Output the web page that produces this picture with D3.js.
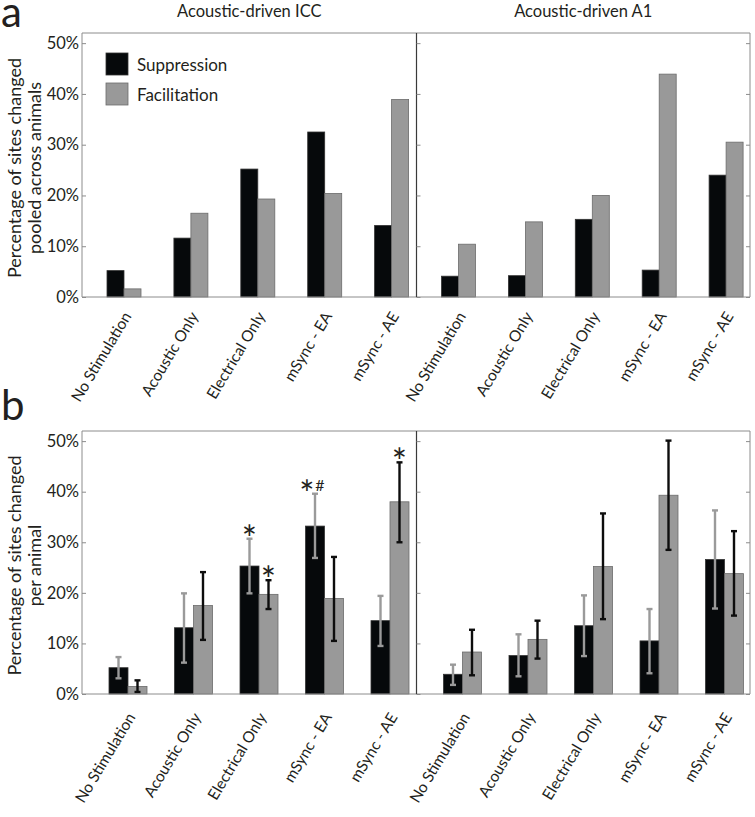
<!DOCTYPE html>
<html><head><meta charset="utf-8">
<script src="https://cdn.jsdelivr.net/npm/d3@7"></script>
<style>
body{margin:0;background:#fff}
text{font-family:Lato,"Noto Sans",sans-serif;fill:#231f20}
</style>
</head><body><svg id="c" width="755" height="817"></svg>
<script>
// ---------- data ----------
const categories = ["No Stimulation","Acoustic Only","Electrical Only","mSync - EA","mSync - AE"];
const seriesNames = ["Suppression","Facilitation"];
const panelTitles = ["Acoustic-driven ICC","Acoustic-driven A1"];
const yTicks = [0,10,20,30,40,50];

// panel a : pooled across animals (%)
const pooledICC_supp = [5.2, 11.6, 25.2, 32.5, 14.1];
const pooledICC_fac  = [1.6, 16.5, 19.3, 20.4, 38.9];
const pooledA1_supp  = [4.1, 4.2, 15.3, 5.3, 24.0];
const pooledA1_fac   = [10.4, 14.8, 20.0, 43.9, 30.5];

// panel b : per animal (%), with error bar ends
const perICC_supp    = [5.2, 13.1, 25.3, 33.2, 14.5];
const perICC_supp_lo = [3.1, 6.2, 19.9, 26.9, 9.5];
const perICC_supp_hi = [7.3, 19.9, 30.7, 39.6, 19.4];
const perICC_fac     = [1.5, 17.5, 19.7, 18.9, 38.0];
const perICC_fac_lo  = [0.4, 10.7, 16.8, 10.5, 30.0];
const perICC_fac_hi  = [2.7, 24.1, 22.5, 27.1, 45.8];
const perA1_supp     = [3.9, 7.6, 13.5, 10.5, 26.6];
const perA1_supp_lo  = [1.8, 3.5, 7.5, 4.1, 16.9];
const perA1_supp_hi  = [5.8, 11.8, 19.5, 16.8, 36.3];
const perA1_fac      = [8.3, 10.8, 25.2, 39.3, 23.8];
const perA1_fac_lo   = [3.7, 7.0, 14.8, 28.5, 15.5];
const perA1_fac_hi   = [12.7, 14.5, 35.7, 50.1, 32.2];

// significance marks (panel b, ICC)
const marks = [
  {cat:"Electrical Only", series:0, text:"*"},
  {cat:"Electrical Only", series:1, text:"*"},
  {cat:"mSync - EA", series:0, text:"*", extra:"#"},
  {cat:"mSync - AE", series:1, text:"*"}
];

// ---------- drawing ----------
const svg = d3.select("#c");
const X0 = 82, XM = 416.5, X1 = 750;
const colSupp = "#06090b", colFac = "#999999";
const frameCol = "#8c8c8c";

const rows = [
  {letter:"a", top:33, bottom:297, offset:42, step:66.9, barW:17, lblDy:19,
   ylab:["Percentage of sites changed","pooled across animals"],
   sub:[{supp:pooledICC_supp, fac:pooledICC_fac},{supp:pooledA1_supp, fac:pooledA1_fac}]},
  {letter:"b", top:431, bottom:694, offset:46, step:65.5, barW:19, lblDy:23,
   ylab:["Percentage of sites changed","per animal"],
   sub:[{supp:perICC_supp, fac:perICC_fac, supp_lo:perICC_supp_lo, supp_hi:perICC_supp_hi, fac_lo:perICC_fac_lo, fac_hi:perICC_fac_hi},
        {supp:perA1_supp, fac:perA1_fac, supp_lo:perA1_supp_lo, supp_hi:perA1_supp_hi, fac_lo:perA1_fac_lo, fac_hi:perA1_fac_hi}]}
];

rows.forEach((row, ri) => {
  const y = d3.scaleLinear().domain([0,52]).range([row.bottom, row.top]);
  const g = svg.append("g");
  const lefts = [X0, XM];

  row.sub.forEach((d, si) => {
    const px = lefts[si];
    const x = d3.scalePoint().domain(categories)
      .range([px + row.offset, px + row.offset + 4*row.step]);
    const bw = row.barW;
    const sg = g.append("g");
    // bars
    sg.selectAll("rect.s").data(categories).join("rect")
      .attr("x", c => x(c) - bw).attr("width", bw)
      .attr("y", (c,i) => y(d.supp[i])).attr("height", (c,i) => y(0) - y(d.supp[i]))
      .attr("fill", colSupp).attr("stroke", "#333").attr("stroke-width", 0.8);
    sg.selectAll("rect.f").data(categories).join("rect")
      .attr("x", c => x(c)).attr("width", bw)
      .attr("y", (c,i) => y(d.fac[i])).attr("height", (c,i) => y(0) - y(d.fac[i]))
      .attr("fill", colFac).attr("stroke", "#6b6b6b").attr("stroke-width", 0.8);
    // error bars
    if (d.supp_lo) {
      const eb = (key, dx, col) => {
        const lo = d[key+"_lo"], hi = d[key+"_hi"];
        const eg = sg.append("g").attr("stroke", col).attr("stroke-width", 2.4);
        categories.forEach((c,i) => {
          const cx = x(c) + dx;
          eg.append("line").attr("x1",cx).attr("x2",cx).attr("y1",y(lo[i])).attr("y2",y(hi[i]));
          eg.append("line").attr("x1",cx-3).attr("x2",cx+3).attr("y1",y(lo[i])).attr("y2",y(lo[i]));
          eg.append("line").attr("x1",cx-3).attr("x2",cx+3).attr("y1",y(hi[i])).attr("y2",y(hi[i]));
        });
      };
      eb("supp", -bw/2, "#9a9a9a");
      eb("fac", bw/2, "#0d0d0d");
      if (si === 0) {
        marks.forEach(m => {
          const key = m.series === 0 ? "supp" : "fac";
          const i = categories.indexOf(m.cat);
          const cx = x(m.cat) + (m.series === 0 ? -bw/2 : bw/2);
          const topY = y(d[key+"_hi"][i]);
          if (m.extra) {
            sg.append("text").attr("x", cx - 8).attr("y", topY + 13).attr("text-anchor","middle")
              .attr("font-size", 36).text(m.text);
            sg.append("text").attr("x", cx + 5).attr("y", topY - 3).attr("text-anchor","middle")
              .attr("font-size", 16).text(m.extra);
          } else {
            sg.append("text").attr("x", cx).attr("y", topY + 13).attr("text-anchor","middle")
              .attr("font-size", 36).text(m.text);
          }
        });
      }
    }
    // x labels
    sg.selectAll("text.xl").data(categories).join("text")
      .attr("class","xl")
      .attr("transform", c => `translate(${x(c)+8},${row.bottom+row.lblDy}) rotate(-59)`)
      .attr("text-anchor","end").attr("font-size", 15.5).text(c => c);
    // titles
    if (ri === 0) {
      svg.append("text").attr("x", (px + (si===0?XM:X1))/2).attr("y", 17)
        .attr("text-anchor","middle").attr("font-size", 16.5).text(panelTitles[si]);
    }
  });

  // frame
  g.append("path").attr("fill","none").attr("stroke",frameCol).attr("stroke-width",1)
    .attr("d", `M${X0},${row.top}H${X1}V${row.bottom}H${X0}Z`);
  g.append("line").attr("x1",XM).attr("x2",XM).attr("y1",row.top).attr("y2",row.bottom)
    .attr("stroke","#3a3a3a").attr("stroke-width",1.2);

  // y axes (ticks inward)
  const axL = d3.axisLeft(y).tickValues(yTicks).tickSize(-4).tickPadding(3).tickFormat(v => v + "%");
  const ga = g.append("g").attr("transform",`translate(${X0},0)`).call(axL);
  ga.select(".domain").remove();
  ga.selectAll("line").attr("stroke", frameCol);
  ga.selectAll("text").attr("font-size", 16.5).attr("font-family","Lato").attr("fill","#231f20").attr("x", -3);
  const axM = d3.axisLeft(y).tickValues(yTicks).tickSize(-4).tickFormat("");
  const gm = g.append("g").attr("transform",`translate(${XM},0)`).call(axM);
  gm.select(".domain").remove(); gm.selectAll("line").attr("stroke", frameCol);
  const axR = d3.axisRight(y).tickValues(yTicks).tickSize(-4).tickFormat("");
  const gr = g.append("g").attr("transform",`translate(${X1},0)`).call(axR);
  gr.select(".domain").remove(); gr.selectAll("line").attr("stroke", frameCol);

  // y label
  const cy = (row.top + row.bottom)/2 + 3;
  const yl = svg.append("text").attr("transform",`translate(21,${cy}) rotate(-90)`)
    .attr("text-anchor","middle").attr("font-size",18);
  yl.append("tspan").attr("x",0).attr("y",0).text(row.ylab[0]);
  yl.append("tspan").attr("x",0).attr("y",19.5).text(row.ylab[1]);

  // panel letter
  svg.append("text").attr("x", 1).attr("y", ri===0 ? 27 : 420).attr("font-size", 42).text(row.letter);
});

// legend
const lg = svg.append("g");
seriesNames.forEach((s, i) => {
  lg.append("rect").attr("x",106).attr("y",53 + i*30).attr("width",22).attr("height",22)
    .attr("fill", i===0 ? colSupp : colFac).attr("stroke", i===0 ? "#333" : "#6b6b6b").attr("stroke-width",0.8);
  lg.append("text").attr("x",137).attr("y",71 + i*29.5).attr("font-size",17).text(s);
});
</script></body></html>
